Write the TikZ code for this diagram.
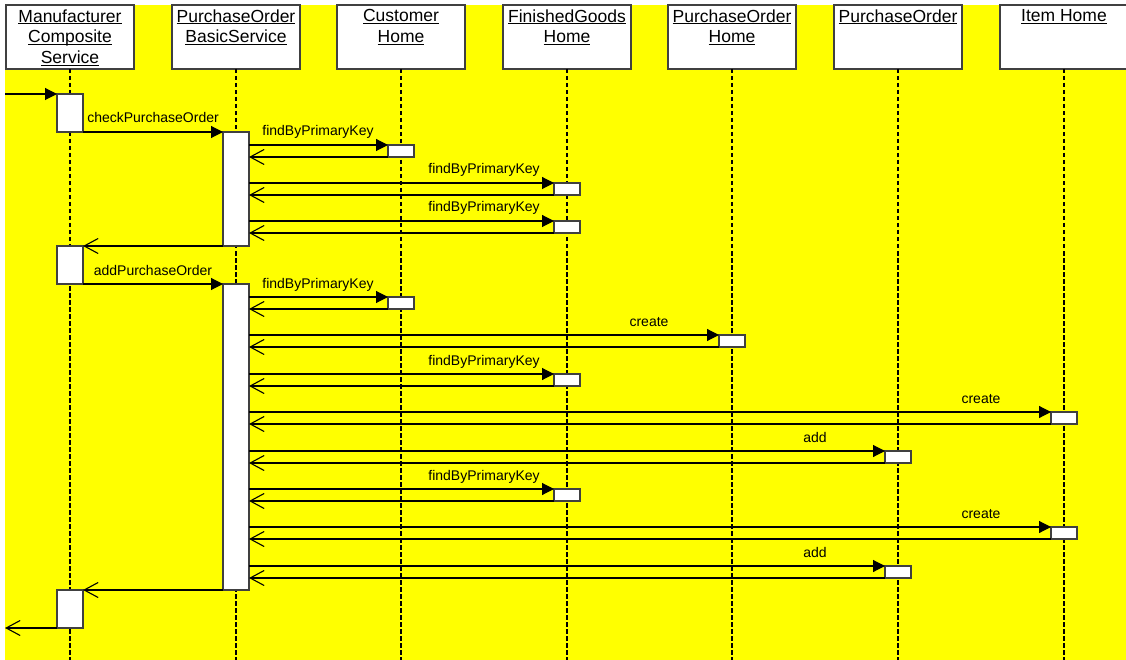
\documentclass[tikz,border=0pt]{standalone}
\usepackage{fontspec}
\setmainfont{Liberation Sans}
\usepackage{xcolor}
\definecolor{canary}{HTML}{FFFF00}
\definecolor{edgegray}{HTML}{404040}
\newcommand{\objname}[1]{\underline{\raisebox{0pt}[\height][0pt]{#1}}}
\usepackage{tikz}
\usetikzlibrary{arrows.meta}

\begin{document}
\begin{tikzpicture}[
  x=1pt, y=-1pt,
  line width=1.1pt,
  headbox/.style={draw=edgegray, fill=white, minimum width=128pt, minimum height=64pt, anchor=north, inner sep=0pt, outer sep=0pt},
  headtxt/.style={anchor=north, align=center, inner sep=4pt, font=\fontsize{17.5}{20.6}\selectfont},
  lifeline/.style={dash pattern=on 4.5pt off 2.5pt},
  act/.style={draw=edgegray, fill=white, minimum width=26pt, anchor=north, inner sep=0pt, outer sep=0pt},
  sm/.style={act, minimum height=12pt},
  call/.style={-{Triangle[length=12pt,width=12pt]}},
  ret/.style={-{Straight Barb[length=14pt,width=15pt]}},
  msg/.style={anchor=base, xshift=-70pt, yshift=9pt, inner sep=0pt, font=\fontsize{14}{16}\selectfont}
]
\useasboundingbox (0,0) rectangle (1126,660);
\fill[canary] (5,5) rectangle (1126,660);

% Objects
\node[headbox, label={[headtxt]north:{\objname{Manufacturer}\\\objname{Composite}\\\objname{Service}}}] (mcs) at (70,5) {};
\node[headbox, label={[headtxt]north:{\objname{PurchaseOrder}\\\objname{BasicService}}}] (pobs) at (236,5) {};
\node[headbox, label={[headtxt]north:{\objname{Customer}\\\objname{Home}}}] (ch) at (401,5) {};
\node[headbox, label={[headtxt]north:{\objname{FinishedGoods}\\\objname{Home}}}] (fgh) at (567,5) {};
\node[headbox, label={[headtxt]north:{\objname{PurchaseOrder}\\\objname{Home}}}] (poh) at (732,5) {};
\node[headbox, label={[headtxt]north:{\objname{PurchaseOrder}}}] (po) at (898,5) {};
\node[headbox, label={[headtxt]north:{\objname{Item Home}}}] (ih) at (1064,5) {};

% Lifelines
\coordinate (bottom) at (0,660);
\foreach \h in {mcs,pobs,ch,fgh,poh,po,ih}
  \draw[lifeline] (\h.south) -- (\h.south |- bottom);

% Activations
\node[act, minimum height=38pt] (mA1) at (70,94) {};
\node[act, minimum height=38pt] (mA2) at (70,246) {};
\node[act, minimum height=38pt] (mA3) at (70,590) {};
\node[act, minimum height=114pt] (bA1) at (236,132) {};
\node[act, minimum height=306pt] (bA2) at (236,284) {};

\node[sm] (cu1) at (401,145) {};
\node[sm] (fg1) at (567,183) {};
\node[sm] (fg2) at (567,221) {};
\node[sm] (cu2) at (401,297) {};
\node[sm] (ph1) at (732,335) {};
\node[sm] (fg3) at (567,374) {};
\node[sm] (ih1) at (1064,412) {};
\node[sm] (po1) at (898,451) {};
\node[sm] (fg4) at (567,489) {};
\node[sm] (ih2) at (1064,527) {};
\node[sm] (po2) at (898,566) {};

% Messages
\coordinate (enter) at (5,94);
\coordinate (leave) at (5,628);
\draw[call] (enter) -- (mA1.north west);
\draw[call] (mA1.south east) -- (bA1.north west) node[msg] {checkPurchaseOrder};

\draw[call] (bA1.east |- cu1.north west) -- (cu1.north west) node[msg] {findByPrimaryKey};
\draw[ret] (cu1.south west) -- (bA1.east |- cu1.south west);
\draw[call] (bA1.east |- fg1.north west) -- (fg1.north west) node[msg] {findByPrimaryKey};
\draw[ret] (fg1.south west) -- (bA1.east |- fg1.south west);
\draw[call] (bA1.east |- fg2.north west) -- (fg2.north west) node[msg] {findByPrimaryKey};
\draw[ret] (fg2.south west) -- (bA1.east |- fg2.south west);
\draw[ret] (bA1.south west) -- (mA2.north east);

\draw[call] (mA2.south east) -- (bA2.north west) node[msg] {addPurchaseOrder};
\draw[call] (bA2.east |- cu2.north west) -- (cu2.north west) node[msg] {findByPrimaryKey};
\draw[ret] (cu2.south west) -- (bA2.east |- cu2.south west);
\draw[call] (bA2.east |- ph1.north west) -- (ph1.north west) node[msg] {create};
\draw[ret] (ph1.south west) -- (bA2.east |- ph1.south west);
\draw[call] (bA2.east |- fg3.north west) -- (fg3.north west) node[msg] {findByPrimaryKey};
\draw[ret] (fg3.south west) -- (bA2.east |- fg3.south west);
\draw[call] (bA2.east |- ih1.north west) -- (ih1.north west) node[msg] {create};
\draw[ret] (ih1.south west) -- (bA2.east |- ih1.south west);
\draw[call] (bA2.east |- po1.north west) -- (po1.north west) node[msg] {add};
\draw[ret] (po1.south west) -- (bA2.east |- po1.south west);
\draw[call] (bA2.east |- fg4.north west) -- (fg4.north west) node[msg] {findByPrimaryKey};
\draw[ret] (fg4.south west) -- (bA2.east |- fg4.south west);
\draw[call] (bA2.east |- ih2.north west) -- (ih2.north west) node[msg] {create};
\draw[ret] (ih2.south west) -- (bA2.east |- ih2.south west);
\draw[call] (bA2.east |- po2.north west) -- (po2.north west) node[msg] {add};
\draw[ret] (po2.south west) -- (bA2.east |- po2.south west);
\draw[ret] (bA2.south west) -- (mA3.north east);
\draw[ret] (mA3.south west) -- (leave);

\end{tikzpicture}
\end{document}
